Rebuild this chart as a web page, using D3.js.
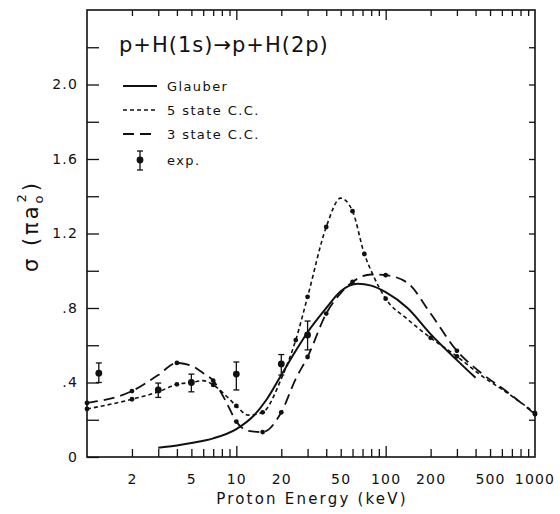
<!DOCTYPE html>
<html>
<head>
<meta charset="utf-8">
<script src="https://cdn.jsdelivr.net/npm/d3@7"></script>
<style>
  body { margin: 0; background: #fff; }
  svg text { font-family: "DejaVu Sans", sans-serif; fill: #111; }
</style>
</head>
<body>
<svg id="chart" width="560" height="514"></svg>
<script>
// Glauber (solid)
var glauberE = [3, 4, 5, 7, 10, 13, 16, 20, 25, 30, 40, 50, 65, 80, 100, 140, 200, 300, 400];
var glauberS = [0.05, 0.062, 0.075, 0.10, 0.15, 0.22, 0.31, 0.44, 0.57, 0.67, 0.80, 0.89, 0.93, 0.92, 0.885, 0.80, 0.66, 0.52, 0.425];

// 5 state close coupling (short dashes)
var cc5E = [1, 2, 3, 4, 5, 6, 7, 8.5, 10, 12, 15, 20, 25, 30, 40, 50, 60, 72, 82, 100, 140, 200, 300, 450, 650, 1000];
var cc5S = [0.258, 0.31, 0.35, 0.39, 0.40, 0.41, 0.387, 0.33, 0.274, 0.225, 0.24, 0.42, 0.628, 0.86, 1.235, 1.39, 1.32, 1.09, 0.98, 0.85, 0.74, 0.64, 0.54, 0.43, 0.345, 0.236];
var cc5Dots = [1, 2, 4, 7, 10, 15, 25, 30, 40, 60, 72, 100, 200, 300, 1000];

// 3 state close coupling (long dashes)
var cc3E = [1, 2, 3, 4, 5, 6, 7, 8.5, 10, 12, 15, 20, 25, 30, 40, 50, 60, 80, 100, 140, 200, 300, 430, 650, 1000];
var cc3S = [0.29, 0.354, 0.44, 0.505, 0.49, 0.45, 0.41, 0.30, 0.19, 0.14, 0.134, 0.24, 0.42, 0.537, 0.77, 0.88, 0.94, 0.98, 0.976, 0.935, 0.77, 0.57, 0.455, 0.35, 0.23];
var cc3Dots = [1, 2, 4, 7, 10, 15, 20, 30, 40, 60, 100, 300, 1000];

// experiment
var expE = [1.2, 3, 5, 10, 20, 30];
var expS = [0.45, 0.36, 0.40, 0.445, 0.50, 0.655];
var expLo = [0.40, 0.32, 0.35, 0.36, 0.44, 0.575];
var expHi = [0.505, 0.397, 0.445, 0.51, 0.55, 0.73];

var xLabels = [2, 5, 10, 20, 50, 100, 200, 500, 1000];
var yLabels = ["0", ".4", ".8", "1.2", "1.6", "2.0"];

var svg = d3.select("#chart");
var x = d3.scaleLog().domain([1, 1000]).range([87, 535]);
var y = d3.scaleLinear().domain([0, 2.4]).range([457, 10]);

var logTicks = [];
[1, 10, 100].forEach(function(d) {
  for (var k = 1; k < 10; k++) logTicks.push(d * k);
});
logTicks = logTicks.filter(function(v) { return v > 1 && v < 1000; });
var isDecade = function(v) { return v === 10 || v === 100; };

var yTicks = d3.range(1, 12).map(function(i) { return +(i * 0.2).toFixed(1); });

// frame
svg.append("rect")
  .attr("x", 87).attr("y", 10).attr("width", 535 - 87).attr("height", 457 - 10)
  .attr("fill", "none").attr("stroke", "#111").attr("stroke-width", 1.6);

// bottom axis
var axB = svg.append("g").attr("transform", "translate(0,457)")
  .call(d3.axisBottom(x).tickValues(logTicks).tickSizeInner(-8).tickSizeOuter(0).tickPadding(17)
    .tickFormat(function(d) { return xLabels.indexOf(d) >= 0 ? d : ""; }));
axB.select(".domain").remove();
axB.selectAll(".tick line").attr("stroke", "#111").attr("stroke-width", 1.3)
  .attr("y2", function(d) { return isDecade(d) ? -11 : -8; });
axB.selectAll(".tick text").attr("font-size", 14).attr("letter-spacing", 1.2);
svg.append("text").attr("x", 535).attr("y", 457 + 17).attr("dy", "0.71em")
  .attr("text-anchor", "middle").attr("font-size", 14).attr("letter-spacing", 1.2).text("1000");

// top axis
var axT = svg.append("g").attr("transform", "translate(0,10)")
  .call(d3.axisTop(x).tickValues(logTicks).tickSizeInner(-6).tickSizeOuter(0).tickFormat(""));
axT.select(".domain").remove();
axT.selectAll(".tick line").attr("stroke", "#111").attr("stroke-width", 1.3)
  .attr("y2", function(d) { return isDecade(d) ? 10 : 6; });

// left axis
var axL = svg.append("g").attr("transform", "translate(87,0)")
  .call(d3.axisLeft(y).tickValues(yTicks.concat([0])).tickSizeInner(-12).tickSizeOuter(0).tickPadding(9)
    .tickFormat(function(d) {
      var i = Math.round(d / 0.4);
      return Math.abs(d - i * 0.4) < 1e-6 ? yLabels[i] : "";
    }));
axL.select(".domain").remove();
axL.selectAll(".tick line").attr("stroke", "#111").attr("stroke-width", 1.3);
axL.selectAll(".tick text").attr("font-size", 14).attr("letter-spacing", 1.2);

// right axis
var axR = svg.append("g").attr("transform", "translate(535,0)")
  .call(d3.axisRight(y).tickValues(yTicks).tickSizeInner(-6).tickSizeOuter(0).tickFormat(""));
axR.select(".domain").remove();
axR.selectAll(".tick line").attr("stroke", "#111").attr("stroke-width", 1.3);

// curves
var line = d3.line()
  .x(function(d) { return x(d[0]); })
  .y(function(d) { return y(d[1]); })
  .curve(d3.curveMonotoneX);

function pairs(es, ss) { return es.map(function(e, i) { return [e, ss[i]]; }); }

svg.append("path").datum(pairs(glauberE, glauberS)).attr("d", line)
  .attr("fill", "none").attr("stroke", "#111").attr("stroke-width", 2);
svg.append("path").datum(pairs(cc5E, cc5S)).attr("d", line)
  .attr("fill", "none").attr("stroke", "#111").attr("stroke-width", 1.6).attr("stroke-dasharray", "4,3");
svg.append("path").datum(pairs(cc3E, cc3S)).attr("d", line)
  .attr("fill", "none").attr("stroke", "#111").attr("stroke-width", 1.8).attr("stroke-dasharray", "11,6");

function dots(es, ss, list) {
  svg.append("g").selectAll("circle")
    .data(pairs(es, ss).filter(function(p) { return list.indexOf(p[0]) >= 0; }))
    .join("circle")
    .attr("cx", function(d) { return x(d[0]); })
    .attr("cy", function(d) { return y(d[1]); })
    .attr("r", 2.4).attr("fill", "#111");
}
dots(cc5E, cc5S, cc5Dots);
dots(cc3E, cc3S, cc3Dots);

// experiment
var ex = svg.append("g");
expE.forEach(function(e, i) {
  var cx = x(e);
  ex.append("line").attr("x1", cx).attr("x2", cx).attr("y1", y(expLo[i])).attr("y2", y(expHi[i]))
    .attr("stroke", "#111").attr("stroke-width", 1.3);
  [expLo[i], expHi[i]].forEach(function(v) {
    ex.append("line").attr("x1", cx - 3).attr("x2", cx + 3).attr("y1", y(v)).attr("y2", y(v))
      .attr("stroke", "#111").attr("stroke-width", 1.3);
  });
  ex.append("circle").attr("cx", cx).attr("cy", y(expS[i])).attr("r", 3.4).attr("fill", "#111");
});

// title
svg.append("text").attr("x", 119).attr("y", 52).attr("font-size", 21).attr("letter-spacing", 1)
  .text("p+H(1s)\u2192p+H(2p)");

// legend
var lg = svg.append("g");
var rows = [
  { label: "Glauber", y: 86, dash: null, w: 2 },
  { label: "5 state C.C.", y: 110, dash: "4,3", w: 1.6 },
  { label: "3 state C.C.", y: 134, dash: "11,6", w: 1.8 }
];
rows.forEach(function(r) {
  lg.append("line").attr("x1", 123).attr("x2", 157).attr("y1", r.y).attr("y2", r.y)
    .attr("stroke", "#111").attr("stroke-width", r.w).attr("stroke-dasharray", r.dash);
  lg.append("text").attr("x", 167).attr("y", r.y).attr("dy", "0.35em")
    .attr("font-size", 13).attr("letter-spacing", 1.4).text(r.label);
});
lg.append("line").attr("x1", 140).attr("x2", 140).attr("y1", 151).attr("y2", 170)
  .attr("stroke", "#111").attr("stroke-width", 1.3);
[151, 170].forEach(function(v) {
  lg.append("line").attr("x1", 137).attr("x2", 143).attr("y1", v).attr("y2", v)
    .attr("stroke", "#111").attr("stroke-width", 1.3);
});
lg.append("circle").attr("cx", 140).attr("cy", 160).attr("r", 3.4).attr("fill", "#111");
lg.append("text").attr("x", 167).attr("y", 160).attr("dy", "0.35em")
  .attr("font-size", 13).attr("letter-spacing", 1.4).text("exp.");

// axis titles
svg.append("text").attr("x", 312).attr("y", 504).attr("text-anchor", "middle")
  .attr("font-size", 15).attr("letter-spacing", 2.2).text("Proton Energy (keV)");

var yt = svg.append("text").attr("transform", "translate(38,226) rotate(-90)")
  .attr("text-anchor", "middle").attr("font-size", 21).attr("letter-spacing", 3);
yt.append("tspan").text("\u03c3 (\u03c0a");
yt.append("tspan").attr("font-size", 13).attr("dy", 5).text("o");
yt.append("tspan").attr("font-size", 13).attr("dx", -10).attr("dy", -17).text("2");
yt.append("tspan").attr("dy", 12).text(")");
</script>
</body>
</html>
